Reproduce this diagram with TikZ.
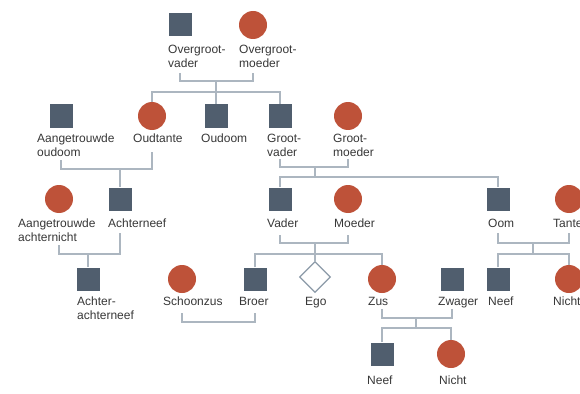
\documentclass[tikz,border=0pt]{standalone}
\usepackage{fontspec}
\setmainfont{Liberation Sans}
\usetikzlibrary{shapes.geometric}

\begin{document}
\begin{tikzpicture}[x=1pt,y=-1pt]

	\def\sq{23pt}
	\def\rd{28pt}
	\def\dm{31pt}

	% Colours
	\definecolor{mancolor}{RGB}{80,94,110}
	\definecolor{womancolor}{RGB}{190,82,57}
	\definecolor{linkcolor}{RGB}{172,182,192}
	\definecolor{egocolor}{RGB}{140,154,168}
	\definecolor{textcolor}{RGB}{55,55,55}

	% Styles
	\tikzstyle{man}=[rectangle, fill=mancolor, minimum size=\sq, inner sep=0]
	\tikzstyle{woman}=[circle, fill=womancolor, minimum size=\rd, inner sep=0]
	\tikzstyle{self}=[diamond, draw=egocolor, line width=1.3pt, fill=white, minimum width=\dm, minimum height=\dm, inner sep=0]
	\tikzstyle{lbl}=[anchor=north west, inner sep=0, align=left, text=textcolor, font=\fontsize{12}{13.5}\selectfont]
	\tikzstyle{link}=[draw=linkcolor, line width=1.2pt]

	% Frame
	\clip (0,0) rectangle (580,393);

	% Overgrootouders
	\node[man] (ovader) at (180,25) {};
	\node[woman] (omoeder) at (253,25) {};
	\node[lbl] (ovader-t) at (168,45) {Overgroot-\\vader};
	\node[lbl] (omoeder-t) at (239,45) {Overgroot-\\moeder};

	% Second row
	\node[man] (aoudoom) at (61,116) {};
	\node[woman] (oudtante) at (152,116) {};
	\node[man] (oudoom) at (216,116) {};
	\node[man] (gvader) at (280,116) {};
	\node[woman] (gmoeder) at (348,116) {};
	\node[lbl] (aoudoom-t) at (37,134) {Aangetrouwde\\oudoom};
	\node[lbl] (oudtante-t) at (133,134) {Oudtante};
	\node[lbl] (oudoom-t) at (201,134) {Oudoom};
	\node[lbl] (gvader-t) at (267,134) {Groot-\\vader};
	\node[lbl] (gmoeder-t) at (333,134) {Groot-\\moeder};

	% Third row
	\node[woman] (anicht) at (59,199) {};
	\node[man] (aneef) at (120,199) {};
	\node[man] (vader) at (280,199) {};
	\node[woman] (moeder) at (348,199) {};
	\node[man] (oom) at (498,199) {};
	\node[woman] (tante) at (569,199) {};
	\node[lbl] (anicht-t) at (18,219) {Aangetrouwde\\achternicht};
	\node[lbl] (aneef-t) at (108,219) {Achterneef};
	\node[lbl] (vader-t) at (267,219) {Vader};
	\node[lbl] (moeder-t) at (334,219) {Moeder};
	\node[lbl] (oom-t) at (488,219) {Oom};
	\node[lbl] (tante-t) at (553,219) {Tante};

	% Fourth row
	\node[man] (aaneef) at (88,279) {};
	\node[woman] (schoonzus) at (182,279) {};
	\node[man] (broer) at (255,279) {};
	\node[self] (ego) at (315,277) {};
	\node[woman] (zus) at (382,279) {};
	\node[man] (zwager) at (452,279) {};
	\node[man] (neef) at (498,279) {};
	\node[woman] (nicht) at (569,279) {};
	\node[lbl] (aaneef-t) at (77,297) {Achter-\\achterneef};
	\node[lbl] (schoonzus-t) at (163,297) {Schoonzus};
	\node[lbl] (broer-t) at (239,297) {Broer};
	\node[lbl] (ego-t) at (305,297) {Ego};
	\node[lbl] (zus-t) at (368,297) {Zus};
	\node[lbl] (zwager-t) at (438,297) {Zwager};
	\node[lbl] (neef-t) at (488,297) {Neef};
	\node[lbl] (nicht-t) at (553,297) {Nicht};

	% Fifth row
	\node[man] (zneef) at (382,354) {};
	\node[woman] (znicht) at (451,354) {};
	\node[lbl] (zneef-t) at (367,376) {Neef};
	\node[lbl] (znicht-t) at (439,376) {Nicht};

	% Couples and children
	\coordinate (bar1) at (216,81);
	\coordinate (sib1) at (oudoom |- 0,92);
	\draw[link] (ovader |- 0,73) |- (bar1) -| (omoeder |- 0,73);
	\draw[link] (bar1) -- (sib1);
	\draw[link] (oudtante.north) |- (sib1) -| (gvader.north);
	\draw[link] (sib1) -- (oudoom.north);

	\coordinate (bar2) at (aneef |- 0,169);
	\draw[link] (aoudoom |- 0,160) |- (bar2) -| (oudtante |- 0,152);
	\draw[link] (bar2) -- (aneef.north);

	\coordinate (bar3) at (315,167);
	\coordinate (sib3) at (315,177);
	\draw[link] (gvader |- 0,159) |- (bar3) -| (gmoeder |- 0,159);
	\draw[link] (bar3) -- (sib3);
	\draw[link] (vader.north) |- (sib3) -| (oom.north);

	\coordinate (bar4) at (aaneef |- 0,254);
	\draw[link] (anicht |- 0,245) |- (bar4) -| (aneef |- 0,233);
	\draw[link] (bar4) -- (aaneef.north);

	\coordinate (bar5) at (ego |- 0,243);
	\coordinate (sib5) at (ego |- 0,254);
	\draw[link] (vader |- 0,235) |- (bar5) -| (moeder |- 0,235);
	\draw[link] (bar5) -- (ego.north);
	\draw[link] (broer.north) |- (sib5) -| (zus.north);

	\coordinate (bar6) at (533,243);
	\coordinate (sib6) at (533,254);
	\draw[link] (oom |- 0,233) |- (bar6) -| (tante |- 0,233);
	\draw[link] (bar6) -- (sib6);
	\draw[link] (neef.north) |- (sib6) -| (nicht.north);

	\coordinate (bar7) at (218,322);
	\draw[link] (schoonzus |- 0,313) |- (bar7) -| (broer |- 0,313);

	\coordinate (bar8) at (416,318);
	\coordinate (sib8) at (416,328);
	\draw[link] (zus |- 0,309) |- (bar8) -| (zwager |- 0,309);
	\draw[link] (bar8) -- (sib8);
	\draw[link] (zneef.north) |- (sib8) -| (znicht.north);

\end{tikzpicture}
\end{document}
